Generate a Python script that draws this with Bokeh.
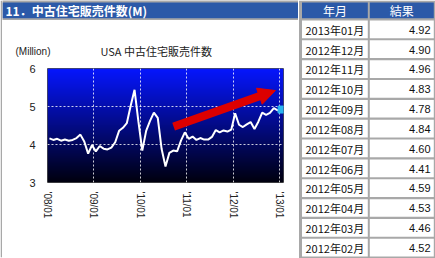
import math
import numpy as np
from bokeh.plotting import figure
from bokeh.layouts import row, column
from bokeh.models import Range1d, FixedTicker, Arrow, NormalHead
from bokeh.embed import file_html
from bokeh.resources import INLINE
from bokeh.core.properties import value

# ---------------- data ----------------
section_title = "11．中古住宅販売件数(M)"
chart_title = "USA 中古住宅販売件数"
unit_label = "(Million)"
table_header = ["年月", "結果"]
table_months = ["2013年01月", "2012年12月", "2012年11月", "2012年10月", "2012年09月",
                "2012年08月", "2012年07月", "2012年06月", "2012年05月", "2012年04月",
                "2012年03月", "2012年02月"]
table_values = [4.92, 4.90, 4.96, 4.83, 4.78, 4.84, 4.60, 4.41, 4.59, 4.53, 4.46, 4.52]

# monthly sales (million), 2008/01 .. 2012/01
sales_early = [4.16, 4.12, 4.15, 4.10, 4.13, 4.10, 4.12, 4.17, 4.26, 4.08, 3.76, 3.98,   # 2008
               3.82, 3.96, 3.89, 3.87, 3.92, 4.06, 4.36, 4.44, 4.56, 5.02, 5.44, 4.60,   # 2009
               3.84, 4.36, 4.62, 4.84, 4.70, 3.88, 3.42, 3.78, 3.84, 3.82, 4.10, 4.32,   # 2010
               4.15, 4.21, 4.12, 4.17, 4.13, 4.13, 4.20, 4.38, 4.32, 4.37, 4.34, 4.39,   # 2011
               4.82]                                                                     # 2012/01
sales = sales_early + table_values[::-1]          # through 2013/01
x_tick_labels = ["'08/01", "'09/01", "'10/01", "'11/01", "'12/01", "'13/01"]
y_ticks = [3, 4, 5, 6]

# ---------------- style ----------------
BLUE = "#2b59a8"
GREY = "#a8a8a8"
FONT = "Liberation Sans"
JFONT = "Noto Sans CJK JP"

n = len(sales)
xs = [i + 0.5 for i in range(n)]
x_ticks = [12 * k for k in range(len(x_tick_labels))]

FW, FH = 236, 114
ppx = FW / n          # pixels per month
ppy = FH / 3.0        # pixels per million


def canvas_fig(w, h, x0, y0):
    f = figure(width=w, height=h, x_range=Range1d(x0, x0 + w), y_range=Range1d(y0 + h, y0),
               x_axis_location=None, y_axis_location=None, min_border=0,
               output_backend="svg", toolbar_location=None, tools="")
    f.outline_line_color = None
    f.grid.visible = False
    f.background_fill_color = "white"
    f.border_fill_color = "white"
    f.frame_align = False
    return f


# ---------------- left border strip ----------------
lf = canvas_fig(2, 258, 0, 0)
lf.quad(left=0, right=2, top=0, bottom=256.8, fill_color=GREY, line_color=None)

# ---------------- title bar ----------------
tf = canvas_fig(296, 20, 2, 0)
tf.background_fill_color = GREY
tf.quad(left=2, right=298.5, top=2, bottom=17.7, fill_color=BLUE, line_color=None)
tf.text(x=[5], y=[10.2], text=[section_title], text_color="white", text_font=value(JFONT),
        text_font_style="bold", text_font_size="12px", text_baseline="middle")

# ---------------- chart header texts ----------------
hf = canvas_fig(296, 38, 2, 20)
hf.text(x=[15], y=[50.5], text=[unit_label], text_color="#222222", text_font=value(FONT),
        text_font_size="10px", text_baseline="middle")
hf.text(x=[100], y=[50.5], text=[chart_title], text_color="#222222", text_font=value(JFONT),
        text_font_size="11px", text_baseline="middle")

# ---------------- chart ----------------
p = figure(frame_width=FW, frame_height=FH, min_border_left=45, min_border_right=15,
           min_border_top=10, min_border_bottom=73,
           x_range=Range1d(0, n), y_range=Range1d(3, 6),
           output_backend="svg", toolbar_location=None, tools="")
p.frame_align = False
p.border_fill_color = "white"
p.outline_line_color = "#505050"

# gradient background
m = 256
t = np.linspace(0.0, 1.0, m)[:, None]
rgba = np.zeros((m, 1, 4), dtype=np.uint8)
rgba[..., 0] = (6 * t).astype(np.uint8)
rgba[..., 1] = (22 * t).astype(np.uint8)
rgba[..., 2] = (14 + (254 - 14) * t).astype(np.uint8)
rgba[..., 3] = 255
img = rgba.view(np.uint32).reshape(m, 1)
p.image_rgba(image=[img], x=0, y=3, dw=n, dh=3, level="image")

p.xaxis.ticker = FixedTicker(ticks=x_ticks)
p.xaxis.major_label_overrides = {tk: lab for tk, lab in zip(x_ticks, x_tick_labels)}
p.yaxis.ticker = FixedTicker(ticks=y_ticks)
p.xgrid.ticker = FixedTicker(ticks=x_ticks[1:])
p.ygrid.ticker = FixedTicker(ticks=y_ticks[1:-1])
for g in (p.xgrid, p.ygrid):
    g.grid_line_color = "white"
    g.grid_line_dash = "2 2"
    g.grid_line_width = 1
    g.grid_line_alpha = 0.8

for ax in (p.xaxis, p.yaxis):
    ax.axis_line_color = None
    ax.major_tick_line_color = None
    ax.minor_tick_line_color = None
    ax.major_tick_out = 0
    ax.major_tick_in = 0
    ax.major_label_text_font = FONT
    ax.major_label_text_color = "#222222"
p.yaxis.major_label_text_font_size = "11px"
p.yaxis.major_label_standoff = 12
p.xaxis.major_label_text_font_size = "10px"
p.xaxis.major_label_orientation = -math.pi / 2
p.xaxis.major_label_standoff = 9

p.line(xs, sales, line_color="white", line_width=2)
p.scatter([xs[-1]], [sales[-1]], marker="square", size=7,
          fill_color="#2ab4f0", line_color="#2ab4f0")

# trend arrow (decoration)
a_x0, a_y0 = 32.6, 4.47
a_x1, a_y1 = 58.9, 5.42
L = math.hypot((a_x1 - a_x0) * ppx, (a_y1 - a_y0) * ppy)
f = (L - 16) / L
b_x, b_y = a_x0 + f * (a_x1 - a_x0), a_y0 + f * (a_y1 - a_y0)
RED = "#dd0000"
p.add_layout(Arrow(x_start=a_x0, y_start=a_y0, x_end=b_x, y_end=b_y, end=None,
                   line_color=RED, line_width=8))
p.add_layout(Arrow(x_start=b_x - 0.5, y_start=b_y - 0.5 * (a_y1 - a_y0) / (a_x1 - a_x0),
                   x_end=a_x1, y_end=a_y1, line_alpha=0,
                   end=NormalHead(size=17, fill_color=RED, line_color=RED, line_width=1)))

# ---------------- bottom border strip ----------------
bf = canvas_fig(296, 3, 2, 255)
bf.quad(left=2, right=298, top=255, bottom=256.8, fill_color=GREY, line_color=None)

# ---------------- table ----------------
tb = canvas_fig(137, 258, 298, 0)
tb.quad(left=298.5, right=435, top=0, bottom=258, fill_color=GREY, line_color=None)

col_l = [301.5, 369.3]
col_r = [367.3, 433.3]
tb.quad(left=col_l, right=col_r, top=[2, 2], bottom=[17.7, 17.7],
        fill_color=BLUE, line_color=None)
tb.text(x=[(a + b) / 2 for a, b in zip(col_l, col_r)], y=[10.2, 10.2], text=table_header,
        text_color="white", text_font=value(JFONT), text_font_size="12px",
        text_align="center", text_baseline="middle")

pitch = 19.85
ri = np.arange(len(table_months))
tops = 20.0 + pitch * ri
bots = tops + 17.7
for a, b in zip(col_l, col_r):
    tb.quad(left=a, right=b, top=tops, bottom=bots, fill_color="white", line_color=None)
centers = (tops + bots) / 2 + 0.3
tb.text(x=305, y=centers, text=table_months, text_color="#111111",
        text_font=value(JFONT), text_font_size="11px", text_baseline="middle")
tb.text(x=430, y=centers, text=[f"{v:.2f}" for v in table_values], text_color="#111111",
        text_font=value(FONT), text_font_size="11px", text_baseline="middle",
        text_align="right")

layout = row(lf, column(tf, hf, p, bf), tb)
open("out.html", "w").write(file_html(layout, INLINE))
